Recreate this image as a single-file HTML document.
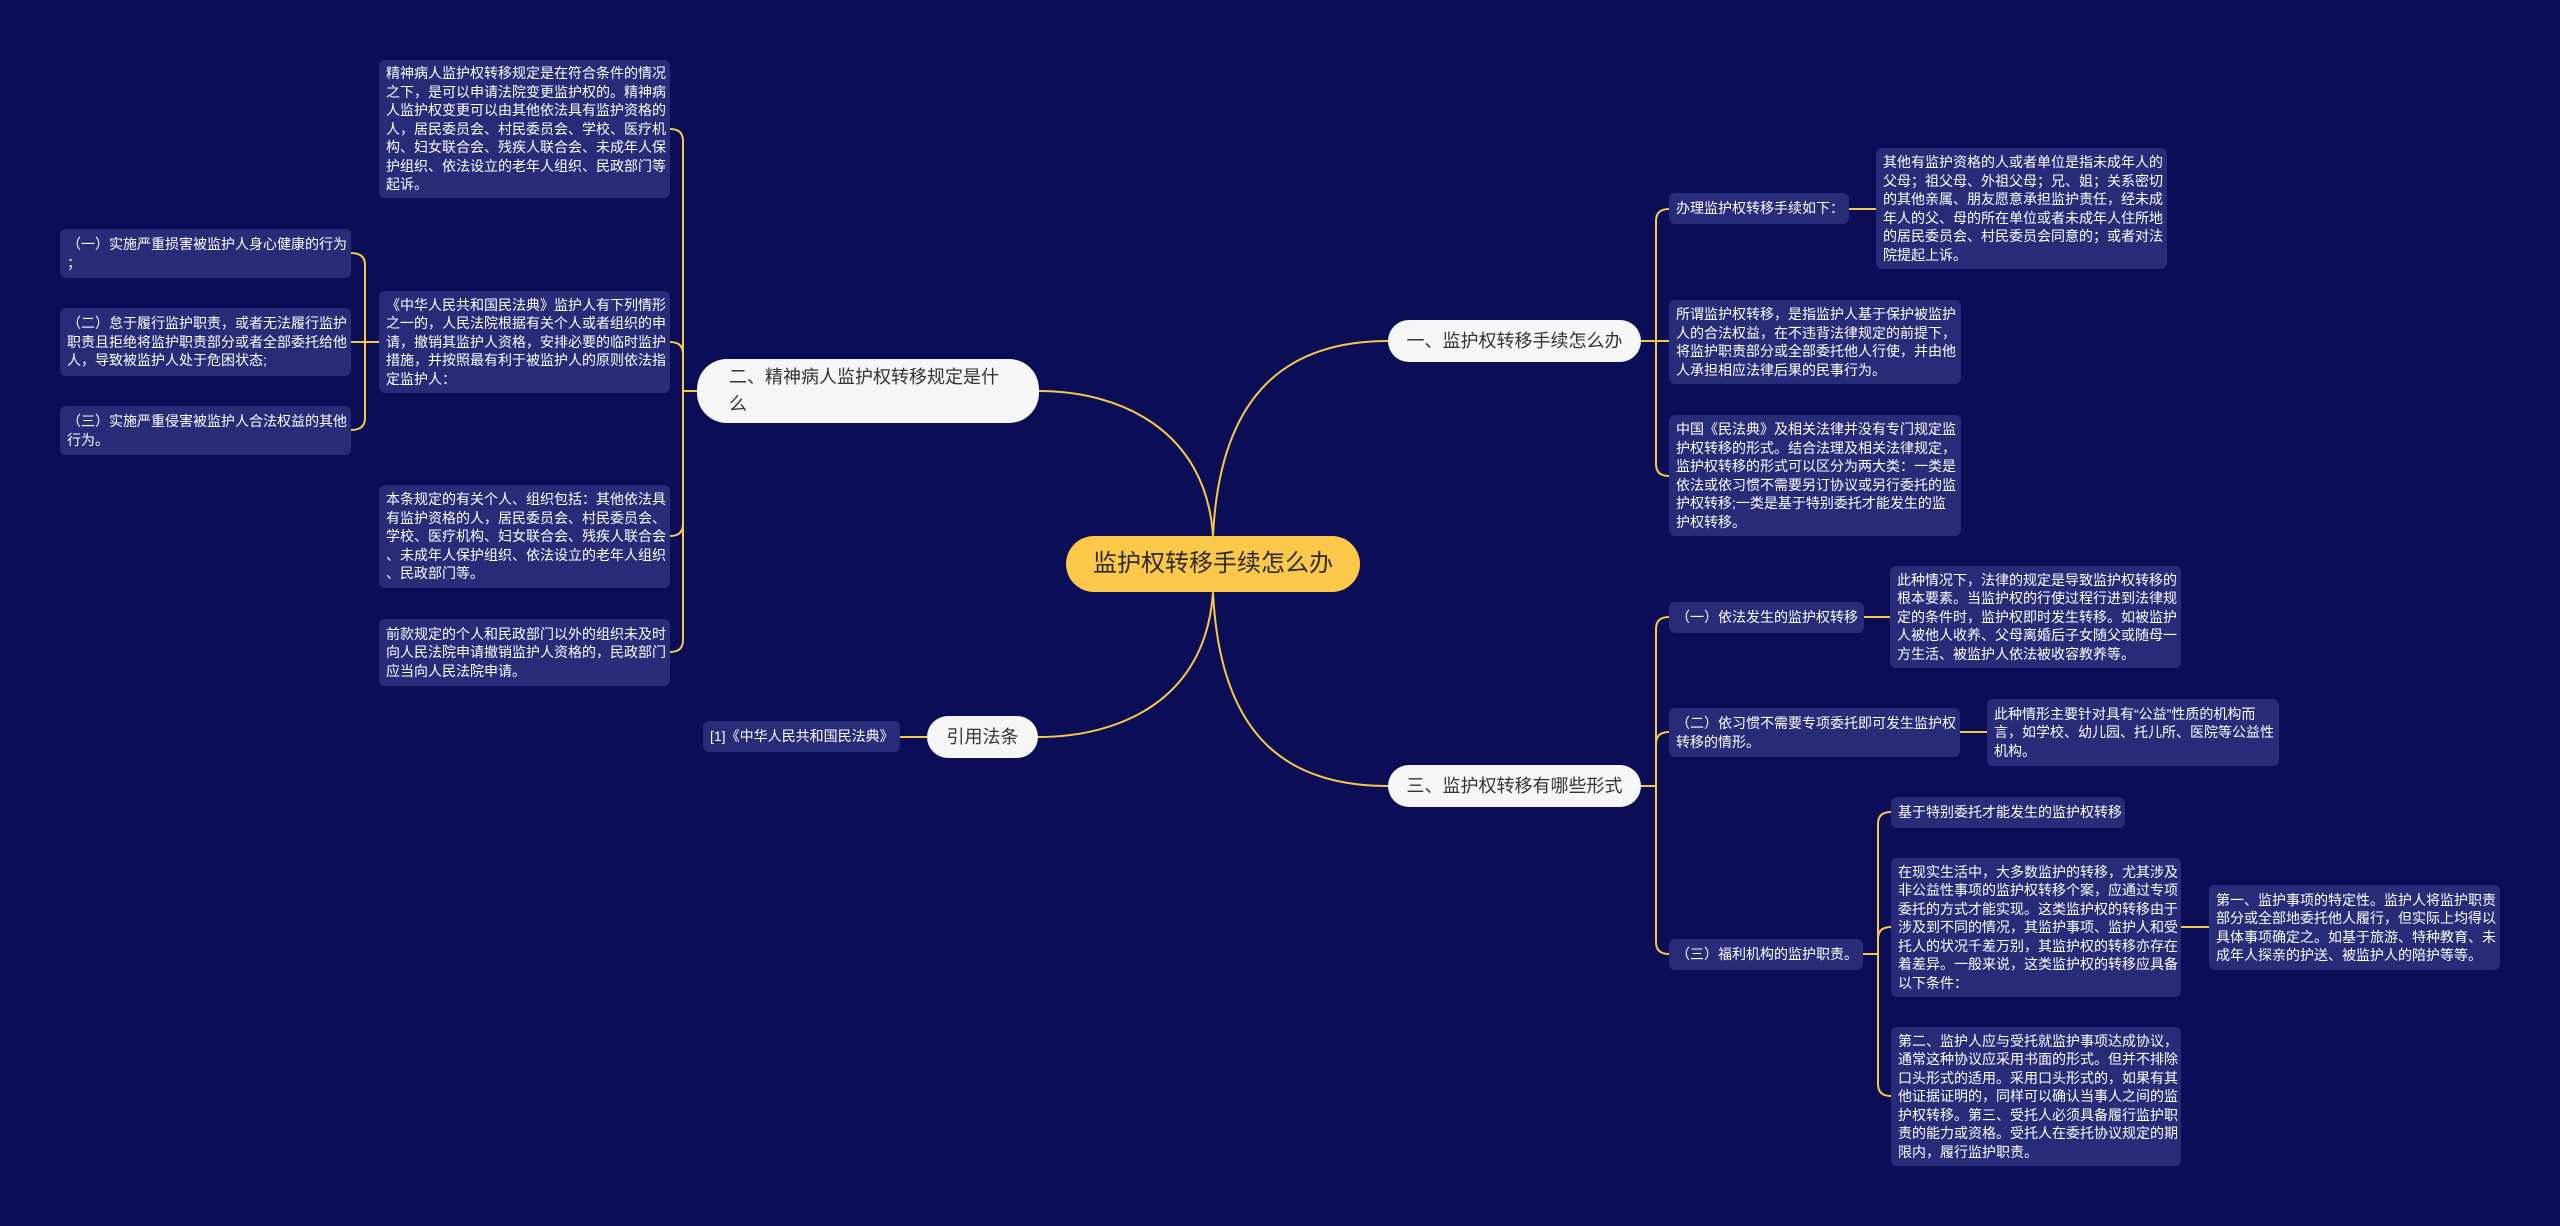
<!DOCTYPE html>
<html><head><meta charset="utf-8"><style>
html,body{margin:0;padding:0}
body{width:2560px;height:1226px;background:#0b0d57;position:relative;overflow:hidden;font-family:"Liberation Sans","Noto Sans CJK SC",sans-serif}
.b{position:absolute;background:#272b78;color:#fff;font-size:14px;line-height:18.5px;border-radius:6px;box-sizing:border-box;padding:0 7px;display:flex;align-items:center;white-space:nowrap}
.n{position:absolute;background:#f6f6f6;color:#333;font-size:18px;line-height:28px;border-radius:22px;box-sizing:border-box;display:flex;align-items:center;justify-content:center;white-space:nowrap}
svg{position:absolute;left:0;top:0}
</style></head><body>
<svg width="2560" height="1226" fill="none" stroke="#f7c948" stroke-width="2">
<path d="M1213,536 C1220,390 1290,341 1388,341"/>
<path d="M1213,592 C1220,740 1290,786 1388,786"/>
<path d="M1213,536 C1206,430 1120,391 1039,391"/>
<path d="M1213,592 C1206,700 1120,737 1038,737"/>
<path d="M900,737 H927"/>
<path d="M1641,341 H1656 M1656,341 V221 Q1656,209 1669,209 M1656,341 V464 Q1656,476 1669,476 M1656,341 H1669"/>
<path d="M1849,209 H1876"/>
<path d="M1641,786 H1656 M1656,786 V629 Q1656,617 1669,617 M1656,786 V744 Q1656,732 1669,732 M1656,786 V942 Q1656,954 1669,954"/>
<path d="M1864,617 H1890 M1960,732 H1987"/>
<path d="M1863,954 H1878 M1878,954 V824 Q1878,812 1891,812 M1878,954 V939 Q1878,927 1891,927 M1878,954 V1084 Q1878,1096 1891,1096"/>
<path d="M2181,927 H2209"/>
<path d="M697,391 H683 M683,391 V141 Q683,129 670,129 M683,391 V354 Q683,342 670,342 M683,391 V524 Q683,536 670,536 M683,391 V640 Q683,652 670,652"/>
<path d="M379,342 H365 M365,342 V265 Q365,253 351,253 M365,342 H351 M365,342 V418 Q365,430 351,430"/>
</svg>

<div class="n" style="left:1066px;top:536px;width:294px;height:56px;background:#fcc84a;border-radius:28px;font-size:24px;color:#2b2b2b">监护权转移手续怎么办</div>
<div class="n" style="left:1388px;top:320px;width:253px;height:42px">一、监护权转移手续怎么办</div>
<div class="n" style="left:1388px;top:765px;width:253px;height:42px">三、监护权转移有哪些形式</div>
<div class="n" style="left:697px;top:359px;width:342px;height:64px;border-radius:30px;justify-content:flex-start;padding-left:32px;line-height:27px">二、精神病人监护权转移规定是什<br>么</div>
<div class="n" style="left:927px;top:716px;width:111px;height:42px">引用法条</div>
<div class="b" style="left:703px;top:721px;width:197px;height:31px">[1]《中华人民共和国民法典》</div>

<div class="b" style="left:1669px;top:193px;width:180px;height:31px">办理监护权转移手续如下：</div>
<div class="b" style="left:1876px;top:148px;width:291px;height:121px">其他有监护资格的人或者单位是指未成年人的<br>父母；祖父母、外祖父母；兄、姐；关系密切<br>的其他亲属、朋友愿意承担监护责任，经未成<br>年人的父、母的所在单位或者未成年人住所地<br>的居民委员会、村民委员会同意的；或者对法<br>院提起上诉。</div>
<div class="b" style="left:1669px;top:300px;width:292px;height:84px">所谓监护权转移，是指监护人基于保护被监护<br>人的合法权益，在不违背法律规定的前提下，<br>将监护职责部分或全部委托他人行使，并由他<br>人承担相应法律后果的民事行为。</div>
<div class="b" style="left:1669px;top:415px;width:292px;height:121px">中国《民法典》及相关法律并没有专门规定监<br>护权转移的形式。结合法理及相关法律规定，<br>监护权转移的形式可以区分为两大类：一类是<br>依法或依习惯不需要另订协议或另行委托的监<br>护权转移;一类是基于特别委托才能发生的监<br>护权转移。</div>

<div class="b" style="left:1669px;top:602px;width:195px;height:31px">（一）依法发生的监护权转移</div>
<div class="b" style="left:1890px;top:566px;width:291px;height:102px">此种情况下，法律的规定是导致监护权转移的<br>根本要素。当监护权的行使过程行进到法律规<br>定的条件时，监护权即时发生转移。如被监护<br>人被他人收养、父母离婚后子女随父或随母一<br>方生活、被监护人依法被收容教养等。</div>
<div class="b" style="left:1669px;top:708px;width:291px;height:49px">（二）依习惯不需要专项委托即可发生监护权<br>转移的情形。</div>
<div class="b" style="left:1987px;top:699px;width:292px;height:67px">此种情形主要针对具有“公益”性质的机构而<br>言，如学校、幼儿园、托儿所、医院等公益性<br>机构。</div>
<div class="b" style="left:1669px;top:939px;width:194px;height:31px">（三）福利机构的监护职责。</div>
<div class="b" style="left:1891px;top:797px;width:234px;height:31px">基于特别委托才能发生的监护权转移</div>
<div class="b" style="left:1891px;top:858px;width:290px;height:139px">在现实生活中，大多数监护的转移，尤其涉及<br>非公益性事项的监护权转移个案，应通过专项<br>委托的方式才能实现。这类监护权的转移由于<br>涉及到不同的情况，其监护事项、监护人和受<br>托人的状况千差万别，其监护权的转移亦存在<br>着差异。一般来说，这类监护权的转移应具备<br>以下条件：</div>
<div class="b" style="left:2209px;top:885px;width:291px;height:85px">第一、监护事项的特定性。监护人将监护职责<br>部分或全部地委托他人履行，但实际上均得以<br>具体事项确定之。如基于旅游、特种教育、未<br>成年人探亲的护送、被监护人的陪护等等。</div>
<div class="b" style="left:1891px;top:1027px;width:290px;height:139px">第二、监护人应与受托就监护事项达成协议，<br>通常这种协议应采用书面的形式。但并不排除<br>口头形式的适用。采用口头形式的，如果有其<br>他证据证明的，同样可以确认当事人之间的监<br>护权转移。第三、受托人必须具备履行监护职<br>责的能力或资格。受托人在委托协议规定的期<br>限内，履行监护职责。</div>

<div class="b" style="left:379px;top:60px;width:291px;height:138px">精神病人监护权转移规定是在符合条件的情况<br>之下，是可以申请法院变更监护权的。精神病<br>人监护权变更可以由其他依法具有监护资格的<br>人，居民委员会、村民委员会、学校、医疗机<br>构、妇女联合会、残疾人联合会、未成年人保<br>护组织、依法设立的老年人组织、民政部门等<br>起诉。</div>
<div class="b" style="left:379px;top:291px;width:291px;height:102px">《中华人民共和国民法典》监护人有下列情形<br>之一的，人民法院根据有关个人或者组织的申<br>请，撤销其监护人资格，安排必要的临时监护<br>措施，并按照最有利于被监护人的原则依法指<br>定监护人：</div>
<div class="b" style="left:379px;top:485px;width:291px;height:103px">本条规定的有关个人、组织包括：其他依法具<br>有监护资格的人，居民委员会、村民委员会、<br>学校、医疗机构、妇女联合会、残疾人联合会<br>、未成年人保护组织、依法设立的老年人组织<br>、民政部门等。</div>
<div class="b" style="left:379px;top:619px;width:291px;height:67px">前款规定的个人和民政部门以外的组织未及时<br>向人民法院申请撤销监护人资格的，民政部门<br>应当向人民法院申请。</div>
<div class="b" style="left:60px;top:229px;width:291px;height:49px">（一）实施严重损害被监护人身心健康的行为<br>；</div>
<div class="b" style="left:60px;top:308px;width:291px;height:68px">（二）怠于履行监护职责，或者无法履行监护<br>职责且拒绝将监护职责部分或者全部委托给他<br>人，导致被监护人处于危困状态;</div>
<div class="b" style="left:60px;top:406px;width:291px;height:49px">（三）实施严重侵害被监护人合法权益的其他<br>行为。</div>
</body></html>
